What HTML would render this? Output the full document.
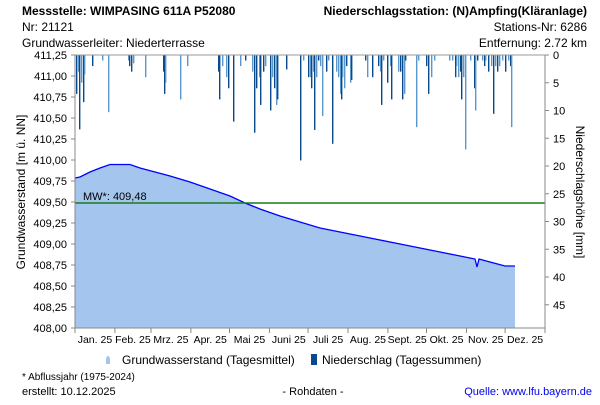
<!DOCTYPE html>
<html><head><meta charset="utf-8"><style>
body{margin:0;background:#fff;}
svg text{font-family:"Liberation Sans",Arial,sans-serif;fill:#000;}
</style></head><body>
<svg width="600" height="400" xmlns="http://www.w3.org/2000/svg">
<text x="22" y="15" font-size="12" font-weight="bold">Messstelle: WIMPASING 611A P52080</text>
<text x="22" y="31" font-size="12">Nr: 21121</text>
<text x="22" y="47" font-size="12">Grundwasserleiter:   Niederterrasse</text>
<text x="587" y="15" font-size="12" font-weight="bold" text-anchor="end">Niederschlagsstation: (N)Ampfing(Kläranlage)</text>
<text x="587" y="31" font-size="12" text-anchor="end">Stations-Nr: 6286</text>
<text x="587" y="47" font-size="12" text-anchor="end">Entfernung: 2.72 km</text>
<path d="M75,328 L75,178 L80,177 L90,172 L100,168 L110,164.5 L130,164.5 L140,168 L155,172 L170,176 L190,182 L210,189 L230,196 L245,203 L260,209 L280,216 L300,222 L320,228 L340,232 L360,236 L380,240 L400,244 L420,248 L440,252 L460,256 L475,259 L477,267 L479,259 L490,262 L505,266 L515,266 L515,328 Z" fill="#a4c6ee"/>
<path d="M75,178 L80,177 L90,172 L100,168 L110,164.5 L130,164.5 L140,168 L155,172 L170,176 L190,182 L210,189 L230,196 L245,203 L260,209 L280,216 L300,222 L320,228 L340,232 L360,236 L380,240 L400,244 L420,248 L440,252 L460,256 L475,259 L477,267 L479,259 L490,262 L505,266 L515,266" fill="none" stroke="#0000ff" stroke-width="1.3"/>
<line x1="75" y1="203" x2="545" y2="203" stroke="#1a7a1a" stroke-width="1.5"/>
<text x="83" y="200" font-size="11">MW*: 409,48</text>
<g id="bars"></g>
<line x1="75" y1="55" x2="545" y2="55" stroke="#999"/>
<line x1="75" y1="55" x2="75" y2="328" stroke="#888"/>
<line x1="545" y1="55" x2="545" y2="328" stroke="#888"/>
<line x1="75" y1="328" x2="545" y2="328" stroke="#888"/>
<g font-size="11" text-anchor="end" id="yl"></g>
<g font-size="11" id="yr"></g>
<g font-size="11" text-anchor="middle" id="xl"></g>
<text transform="translate(25,192) rotate(-90)" font-size="12" text-anchor="middle">Grundwasserstand [m ü. NN]</text>
<text transform="translate(576,192) rotate(90)" font-size="12" text-anchor="middle">Niederschlagshöhe [mm]</text>
<path d="M110,364 l-4,0 0,-5 a2,3 0 0 1 4,0 z" fill="#a4c6ee"/>
<text x="122" y="364" font-size="12">Grundwasserstand (Tagesmittel)</text>
<rect x="311" y="354" width="6" height="11" fill="#0b4a8a"/>
<text x="322" y="364" font-size="12">Niederschlag (Tagessummen)</text>
<text x="22" y="380" font-size="10">* Abflussjahr (1975-2024)</text>
<text x="22" y="395" font-size="11">erstellt:  10.12.2025</text>
<text x="313" y="395" font-size="11" text-anchor="middle">- Rohdaten -</text>
<text x="592" y="395" font-size="11" text-anchor="end" style="fill:#0000ee">Quelle: www.lfu.bayern.de</text>
</svg>
<script>
var ns="http://www.w3.org/2000/svg";
function el(p,t,a,txt){var e=document.createElementNS(ns,t);for(var k in a)e.setAttribute(k,a[k]);if(txt)e.textContent=txt;document.getElementById(p).appendChild(e);}
var b=[[76,7,1],[78,3,0],[79,13.4,1],[81,5,0],[83,8.5,1],[84,3.5,0],[92,2,1],[102,1,0],[108,10.3,0],[128,1,0],[129,2,1],[131,3,1],[133,1.5,0],[145,4,0],[163,3,1],[164,7,1],[165,5,0],[180,8,0],[187,2,0],[218,3,1],[219,8,1],[222,2,0],[226,4,0],[228,6,1],[233,12,1],[240,2,0],[245,1,1],[252,3,0],[254,14,1],[256,6,1],[259,4,0],[260,9,1],[263,3,1],[265,2,0],[270,10,1],[272,4,0],[274,6,1],[276,9,0],[277,8,1],[286,2.6,1],[300,19,1],[303,1,0],[308,4,1],[310,4,0],[311,6,1],[313,3,0],[314,13.5,1],[316,4,0],[318,1,1],[320,2,0],[322,11,0],[326,3,1],[328,1,0],[332,16,1],[336,3,0],[338,4,0],[340,7,0],[341,8,1],[342,4,0],[344,6,0],[346,2,1],[350,5,0],[351,4.5,1],[365,1,1],[367,4,0],[372,4,1],[378,2,1],[380,3,0],[381,9,1],[383,1,0],[387,5,1],[390,2,0],[391,8,1],[398,3,0],[400,3,1],[402,8,1],[404,7,0],[405,1,1],[416,13,0],[418,1,0],[426,2,1],[428,7,1],[431,4,0],[434,1,0],[449,1,0],[452,1,0],[455,4,1],[456,2,0],[458,4,0],[460,3,1],[461,8,1],[463,4,0],[465,17,0],[470,1,0],[474,6,1],[475,10,0],[477,1,1],[482,1,0],[484,2,1],[485,1,0],[488,3,1],[491,2,0],[493,10.6,1],[495,2,0],[497,3,1],[499,2,0],[502,1,0],[505,3,1],[508,1,0],[510,2,1],[511,13,0]];
b.forEach(function(d){el("bars","rect",{x:d[0],y:55,width:1.4,height:d[1]*5.55,fill:d[2]?"#0b4a8a":"#5a97cc"});});
var ys=["408,00","408,25","408,50","408,75","409,00","409,25","409,50","409,75","410,00","410,25","410,50","410,75","411,00","411,25"];
ys.forEach(function(t,i){var y=328-i*21;el("yl","text",{x:67,y:y+4},t);el("yl","line",{x1:71,y1:y,x2:75,y2:y,stroke:"#888"});});
for(var i=0;i<=45;i+=5){var y=55+i*5.55;el("yr","text",{x:553,y:y+4},String(i));el("yr","line",{x1:545,y1:y,x2:549,y2:y,stroke:"#888"});}
var m=["Jan. 25","Feb. 25","Mrz. 25","Apr. 25","Mai 25","Juni 25","Juli 25","Aug. 25","Sept. 25","Okt. 25","Nov. 25","Dez. 25"];
var days=[31,28,31,30,31,30,31,31,30,31,30,31],x=75,s=470/365;
el("xl","line",{x1:75,y1:328,x2:75,y2:333,stroke:"#888"});
m.forEach(function(t,i){var w=days[i]*s;el("xl","text",{x:x+w/2,y:343,"font-size":"10.5"},t);x+=w;el("xl","line",{x1:x,y1:328,x2:x,y2:333,stroke:"#888"});});
</script>
</body></html>
